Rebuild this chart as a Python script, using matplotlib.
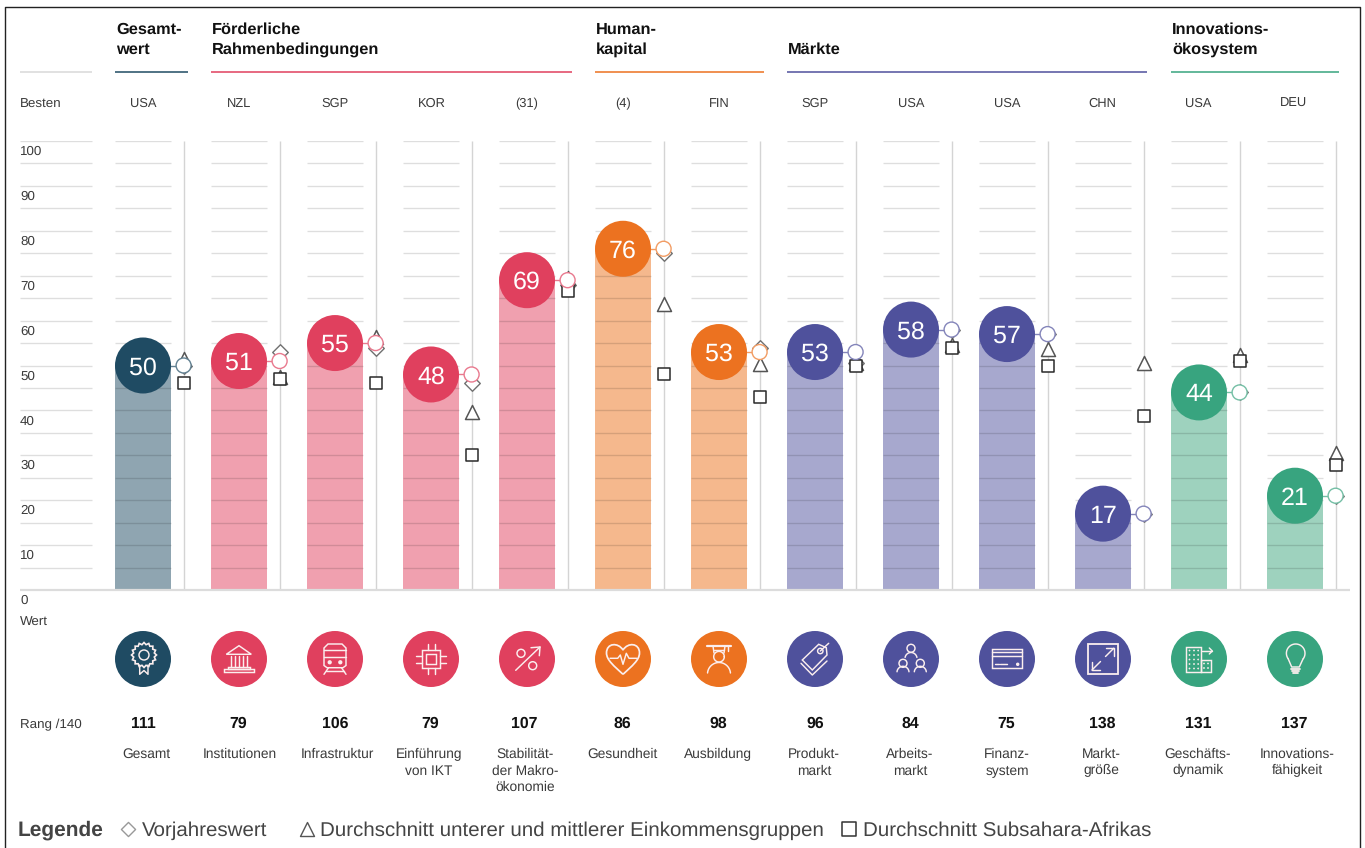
import numpy as np
import matplotlib
matplotlib.use("Agg")
import matplotlib.pyplot as plt
from matplotlib.colors import to_rgb
from matplotlib.path import Path
from matplotlib.patches import PathPatch, Circle, Polygon

plt.rcParams['font.family'] = ['Liberation Sans', 'DejaVu Sans']
plt.rcParams['text.hinting'] = 'no_hinting'

# ---------- data ----------
pillars = ["Gesamt", "Institutionen", "Infrastruktur", "Einführung\nvon IKT",
           "Stabilität-\nder Makro-\nökonomie", "Gesundheit", "Ausbildung",
           "Produkt-\nmarkt", "Arbeits-\nmarkt", "Finanz-\nsystem", "Markt-\ngröße",
           "Geschäfts-\ndynamik", "Innovations-\nfähigkeit"]
values = [50, 51, 55, 48, 69, 76, 53, 53, 58, 57, 17, 44, 21]
ranks = [111, 79, 106, 79, 107, 86, 98, 96, 84, 75, 138, 131, 137]
best = ["USA", "NZL", "SGP", "KOR", "(31)", "(4)", "FIN", "SGP", "USA", "USA", "CHN", "USA", "DEU"]
previous_year = [50, 52.9, 54, 46, 68, 75, 54, 50.5, 58, 57, 17, 44, 21]
low_mid_income = [51.5, 47.5, 56.4, 39.6, 69.5, 63.6, 50.3, 50.5, 54.5, 53.6, 50.5, 52.3, 30.5]
subsahara = [46, 47, 46, 30, 66.6, 48, 43, 49.8, 54, 49.8, 38.8, 51, 27.8]
group_of = [0, 1, 1, 1, 1, 2, 2, 3, 3, 3, 3, 4, 4]
group_titles = ["Gesamt-\nwert", "Förderliche\nRahmenbedingungen", "Human-\nkapital", "Märkte",
                "Innovations-\nökosystem"]
group_colors = ["#1F4B63", "#E0405E", "#EC7220", "#4F519C", "#38A47F"]
group_light = ["#8FA5B1", "#F0A0AF", "#F5B88D", "#A7A8CE", "#9ED2BE"]
group_rule_spans = [(115, 188), (211, 572), (595, 764), (787, 1147), (1171, 1339)]
yticks = [0, 10, 20, 30, 40, 50, 60, 70, 80, 90, 100]
legend_labels = ["Vorjahreswert", "Durchschnitt unterer und mittlerer Einkommensgruppen",
                 "Durchschnitt Subsahara-Afrikas"]

# ---------- layout ----------
W, H = 1365, 848
fig = plt.figure(figsize=(W / 100, H / 100), dpi=100, facecolor="white")
px = fig.add_axes([0, 0, 1, 1], zorder=0)
px.set_xlim(0, W); px.set_ylim(H, 0); px.axis("off")

Y0, Y100 = 590, 141
X0, STEP = 143, 96
ax = fig.add_axes([0, 1 - Y0 / H, 1, (Y0 - Y100) / H], zorder=1)
ax.set_xlim(-X0 / STEP, (W - X0) / STEP)
ax.set_ylim(0, 100)
ax.axis("off"); ax.patch.set_alpha(0)

TXT = "#3a3a3a"
DARK = "#111111"
xs = np.arange(len(values))
colors = [group_colors[g] for g in group_of]
lights = [group_light[g] for g in group_of]
ring = [tuple(0.7 * np.array(to_rgb(c)) + 0.3) for c in colors]
BAR_W = 56 / STEP
VX = 40.6 / STEP   # offset of the comparison axis from the column centre
PT = 0.72        # px -> pt

# frame
px.plot([5, 5, 1360, 1360], [848, 7, 7, 848], color="#222222", lw=1.0, zorder=1, clip_on=False)

# comparison axes
ax.vlines(xs + VX, 0, 100, color="#d4d4d4", lw=1.0, zorder=1)
# bars
ax.bar(xs, values, width=BAR_W, color=lights, zorder=2)
# grid
grid = np.arange(5, 101, 5)
for g in grid:
    ax.hlines(np.full(len(xs), g), xs - BAR_W / 2, xs + BAR_W / 2, color=(0, 0, 0, 0.13), lw=1.0, zorder=3)
    ax.hlines(g, (20 - X0) / STEP, (92 - X0) / STEP, color=(0, 0, 0, 0.13), lw=1.0, zorder=3)
ax.hlines(0, (20 - X0) / STEP, (1350 - X0) / STEP, color="#dcdcdc", lw=1.6, zorder=4, clip_on=False)

# comparison markers
def ms(p):
    return (p * PT) ** 2
ax.scatter(xs + VX, previous_year, marker="D", s=ms(11), facecolor="white", edgecolor="#707070",
           lw=1.0, zorder=5, clip_on=False)
ax.scatter(xs + VX, low_mid_income, marker="^", s=ms(14), facecolor="white", edgecolor="#555555",
           lw=1.1, zorder=6, clip_on=False)
ax.scatter(xs + VX, subsahara, marker="s", s=ms(12), facecolor="white", edgecolor="#2a2a2a",
           lw=1.1, zorder=7, clip_on=False)
# connectors and score circles
for x, v, c, in zip(xs, values, ring):
    ax.plot([x, x + VX], [v, v], color=c, lw=1.0, zorder=8)
ax.scatter(xs + VX, values, marker="o", s=ms(15), facecolor="white", edgecolor=ring, lw=1.0,
           zorder=9, clip_on=False)
ax.scatter(xs, values, marker="o", s=ms(56), color=colors, lw=0, zorder=10, clip_on=False)
for x, v in zip(xs, values):
    ax.text(x, v, str(v), color="white", ha="center", va="center_baseline", fontsize=25 * PT, zorder=11)

# y tick labels
for t in yticks:
    ax.annotate(str(t), xy=((20 - X0) / STEP, t), xytext=(0, -14 * PT), textcoords="offset points",
                ha="left", va="baseline", fontsize=9.6, color=TXT, annotation_clip=False)

# headers
px.hlines(72, 20, 92, color="#d9d9d9", lw=1.1)
for (a, b), c in zip(group_rule_spans, group_colors):
    px.hlines(72, a, b, color=c, lw=1.1)
for (a, b), t, in zip(group_rule_spans, group_titles):
    lines = t.split("\n")
    ys = [54] if len(lines) == 1 else [34, 54]
    for yy, l in zip(ys, lines):
        px.text(a + 1, yy, l, fontsize=11.8, fontweight="bold", color=DARK, ha="left", va="baseline")

px.text(20, 108, "Besten", fontsize=9.6, color=TXT, ha="left", va="baseline")
px.text(20, 626, "Wert", fontsize=9.6, color=TXT, ha="left", va="baseline")
px.text(20, 728, "Rang /140", fontsize=9.6, color=TXT, ha="left", va="baseline")
code_x = [143, 239, 335, 432, 527, 623, 719, 815, 911, 1007, 1102, 1198, 1294]
rank_x = [143, 238, 335, 430, 524, 622, 718, 815, 910, 1006, 1102, 1198, 1294]
name_x = [146, 240, 337, 429, 525, 622, 718, 814, 910, 1007, 1101, 1198, 1297]
for i in xs:
    px.text(code_x[i], 107, best[i], fontsize=9.3, color=TXT, ha="center", va="baseline")
    px.text(rank_x[i], 728, str(ranks[i]), fontsize=11.4, fontweight="bold", color=DARK, ha="center", va="baseline")
    for k, l in enumerate(pillars[i].split("\n")):
        px.text(name_x[i], 758 + 16.5 * k, l, fontsize=9.95, color=TXT, ha="center", va="baseline")

# ---------- icons ----------
ICON_Y = 659
LW = 1.05
IC = "#fbeeee"

def line(cx, pts, lw=LW, closed=False):
    pts = [(cx + a, ICON_Y + b) for a, b in pts]
    if closed:
        px.add_patch(Polygon(pts, closed=True, fill=False, ec=IC, lw=lw, zorder=4))
    else:
        px.plot(*zip(*pts), color=IC, lw=lw, zorder=4, solid_capstyle="round", solid_joinstyle="round")

def circ(cx, a, b, r, lw=LW, fill=False):
    px.add_patch(Circle((cx + a, ICON_Y + b), r, fill=fill, fc=IC if fill else None, ec=IC, lw=lw, zorder=4))

def rect(cx, a, b, w, h, lw=LW):
    line(cx, [(a, b), (a + w, b), (a + w, b + h), (a, b + h)], lw=lw, closed=True)

def arc(cx, a, b, r, t0, t1, lw=LW):
    t = np.radians(np.linspace(t0, t1, 40))
    line(cx, list(zip(a + r * np.cos(t), b + r * np.sin(t))), lw=lw)

def i_rosette(c):
    n = 32
    t = np.linspace(0, 2 * np.pi, n, endpoint=False)
    r = np.where(np.arange(n) % 2 == 0, 12.5, 10.5)
    line(c, list(zip(1 + r * np.cos(t), -4 + r * np.sin(t))), closed=True, lw=1.2)
    circ(c, 1, -4, 5)
    line(c, [(-3.3, 6), (-3.3, 15.3), (1, 11.5), (5, 15.3), (5, 6)])

def i_bank(c):
    line(c, [(-12.7, -4.7), (0, -13.3), (12.3, -4.7)], closed=True)
    for a in [-8.3, -4.3, 0, 4.3, 8.3]:
        line(c, [(a, -3.3), (a, 7.7)])
    rect(c, -11, 7.7, 22, 2.7)
    rect(c, -15, 10.4, 30, 3)

def i_train(c):
    line(c, [(-11, 6.5), (-11, -11), (-7, -15), (7, -15), (11, -11), (11, 6.5), (8, 8.7), (-8, 8.7)], closed=True)
    line(c, [(-11, -9), (11, -9)]); line(c, [(-11, -2.3), (11, -2.3)])
    circ(c, -5.3, 3.3, 1.4, fill=True); circ(c, 5.3, 3.3, 1.4, fill=True)
    line(c, [(-6.5, 8.7), (-11, 15.3)]); line(c, [(6.5, 8.7), (11, 15.3)])
    line(c, [(-9, 12), (9, 12)])

def i_chip(c):
    rect(c, -9.3, -9.3, 18.6, 18.6); rect(c, -5, -5, 10, 10)
    for s in [-3.5, 3.5]:
        line(c, [(s, -15), (s, -9.3)]); line(c, [(s, 9.3), (s, 15)])
        line(c, [(-15, s), (-9.3, s)]); line(c, [(9.3, s), (15, s)])

def i_percent(c):
    circ(c, -6, -5.7, 4); circ(c, 5.7, 6.7, 4)
    line(c, [(-11.3, 11.3), (13, -12)])
    line(c, [(4, -11.3), (13, -12), (12.3, -3.3)])

def i_heart(c):
    verts = [(0, 15.3), (-9, 7), (-16.5, 1), (-16.5, -6), (-16.5, -16), (-5, -17), (0, -9),
             (5, -17), (16.5, -16), (16.5, -6), (16.5, 1), (9, 7), (0, 15.3)]
    codes = [Path.MOVETO] + [Path.CURVE4] * 12
    p = Path([(c + a, ICON_Y + b) for a, b in verts], codes)
    px.add_patch(PathPatch(p, fill=False, ec=IC, lw=LW + 0.2, zorder=4))
    line(c, [(-13, -0.7), (-5.3, -0.7), (-2.7, -4), (0, 5.3), (3.3, -5.7), (6, -0.7), (13.7, -0.7)])

def i_grad(c):
    line(c, [(-12.3, -13.3), (12, -13.3)], lw=1.6)
    line(c, [(-6, -13), (-5, -6)]); line(c, [(6, -13), (5, -6)])
    line(c, [(-5, -9), (5, -9)])
    arc(c, 0, -2.3, 5.3, 0, 360)
    line(c, [(9.3, -13.3), (9.3, -8)])
    arc(c, 0, 15, 11.5, 185, 355)

def i_tag(c):
    line(c, [(-12.7, 1), (3.7, -14.7), (11.3, -11.3), (12, -4), (-2.7, 11)], closed=True)
    circ(c, 5.3, -8, 2.7)
    line(c, [(5.3, -8), (13.7, -15.7)])
    line(c, [(-14, 4.3), (-2.7, 16), (12, 2)])

def i_people(c):
    circ(c, 0, -10.7, 4)
    arc(c, 0, -0.5, 6, 190, 350)
    for a, b in [(-8, 4.3), (9.3, 4.3)]:
        circ(c, a, b, 4)
        arc(c, a, b + 9, 6, 185, 355)

def i_card(c):
    rect(c, -15.3, -10, 30.6, 19.3)
    line(c, [(-15.3, -7), (15.3, -7)]); line(c, [(-15.3, -3.3), (15.3, -3.3)])
    line(c, [(-11.7, 5), (-8.3, 5)]); line(c, [(-6.7, 5), (0, 5)])
    circ(c, 10.7, 5.3, 1, fill=True)

def i_expand(c):
    rect(c, -14.7, -14.7, 29.4, 29.4, lw=1.3)
    line(c, [(-11, 11), (-2.5, 2.5)]); line(c, [(2.5, -2.5), (10.7, -10.7)])
    line(c, [(-11, 3), (-11, 11), (-3, 11)]); line(c, [(3, -10.7), (10.7, -10.7), (10.7, -3)])

def i_build(c):
    rect(c, -13.3, -12.3, 15.6, 25.6); rect(c, 2.3, 1, 9.4, 12.3)
    for a in [-9.5, -5, -0.8]:
        for b in [-8.5, -4, 0.5, 5, 9.5]:
            circ(c, a, b, 0.6, lw=0.4, fill=True)
    for a in [5, 9]:
        for b in [4.5, 9]:
            circ(c, a, b, 0.6, lw=0.4, fill=True)
    line(c, [(3.3, -8), (13.3, -8)]); line(c, [(10.3, -11), (13.3, -8), (10.3, -5)])

def i_bulb(c):
    arc(c, 0.7, -5.7, 9.3, 145, 395)
    line(c, [(-6.9, -0.4), (-3.3, 8), (4.3, 8), (8.2, -0.4)])
    for b, h in [(9.5, 4.5), (11.8, 3.8), (14.2, 2.5)]:
        line(c, [(0.5 - h, b), (0.5 + h, b)], lw=1.3)

icons = [i_rosette, i_bank, i_train, i_chip, i_percent, i_heart, i_grad, i_tag, i_people, i_card,
         i_expand, i_build, i_bulb]
for i, fn in zip(xs, icons):
    c = X0 + STEP * i
    px.add_patch(Circle((c, ICON_Y), 28, fc=colors[i], ec="none", zorder=3))
    fn(c)

# ---------- legend ----------
LB = 836
LC = "#444444"
px.text(18, LB, "Legende", fontsize=15, fontweight="bold", color=LC, ha="left", va="baseline")
px.scatter([128], [829], marker="D", s=ms(10), facecolor="white", edgecolor="#999999", lw=1)
px.scatter([307], [829], marker="^", s=ms(14), facecolor="white", edgecolor="#555555", lw=1)
px.scatter([849], [829], marker="s", s=ms(14), facecolor="white", edgecolor="#333333", lw=1.1)
for lx, l in zip([142, 320, 863], legend_labels):
    px.text(lx, LB, l, fontsize=14.75, color=LC, ha="left", va="baseline")

fig.savefig("out.png", dpi=100)
